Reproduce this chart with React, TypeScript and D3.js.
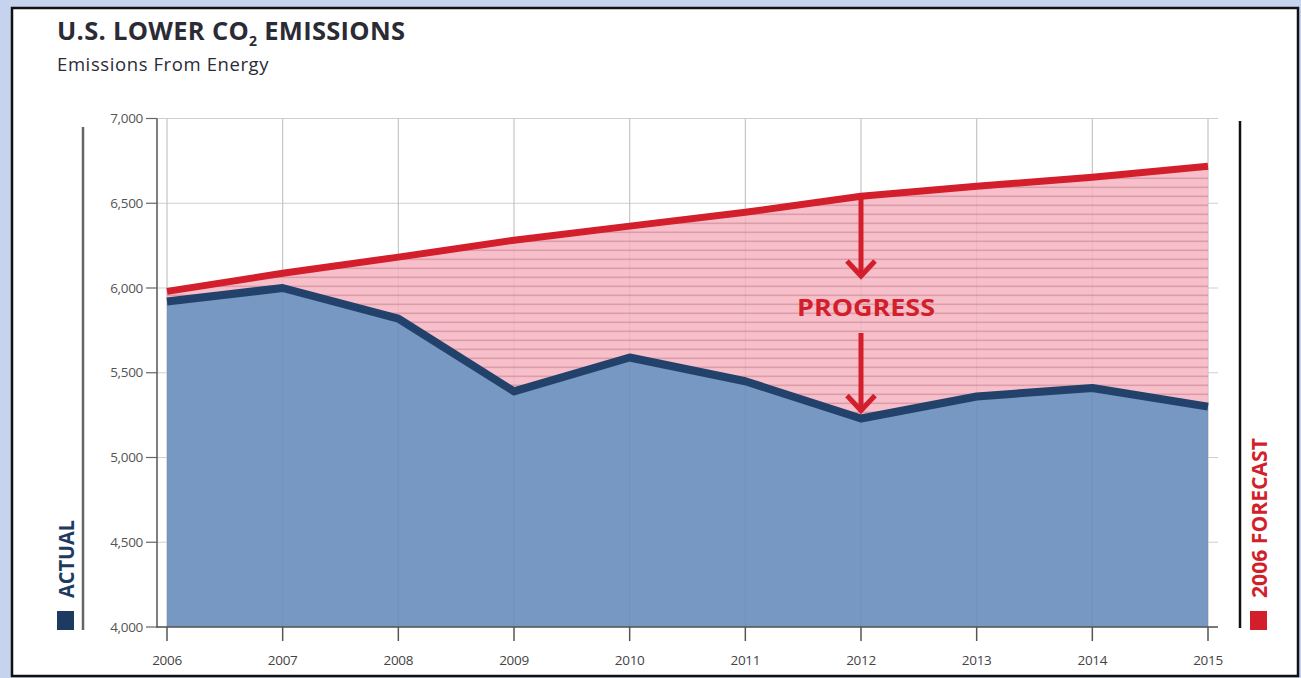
import React from 'react';
import * as d3 from 'd3';

// CO2 emissions from energy, million metric tons
const years = [2006, 2007, 2008, 2009, 2010, 2011, 2012, 2013, 2014, 2015];
const actual = [5920, 6000, 5820, 5390, 5590, 5450, 5230, 5360, 5410, 5300];
const forecast2006 = [5980, 6087, 6182, 6282, 6365, 6447, 6541, 6600, 6653, 6718];
const yTicks = [4000, 4500, 5000, 5500, 6000, 6500, 7000];

const W = 1301;
const H = 678;
const NAVY = '#22426b';
const BLUE_FILL = '#7698c3';
const RED = '#d21f2b';
const FONT = "'Open Sans', 'Noto Sans', sans-serif";

export default function App() {
  const x = d3.scaleLinear().domain([2006, 2015]).range([167, 1208]);
  const y = d3.scaleLinear().domain([4000, 7000]).range([627, 118.5]);

  const rows = years.map((yr, i) => ({ yr, a: actual[i], f: forecast2006[i] }));

  const actualArea = d3.area<any>()
    .x(d => x(d.yr))
    .y0(y(4000))
    .y1(d => y(d.a))(rows);
  const gapArea = d3.area<any>()
    .x(d => x(d.yr))
    .y0(d => y(d.a))
    .y1(d => y(d.f))(rows);
  const actualLine = d3.line<any>().x(d => x(d.yr)).y(d => y(d.a))(rows);
  const forecastLine = d3.line<any>().x(d => x(d.yr)).y(d => y(d.f))(rows);

  const xL = 157;
  const xR = 1218;

  // progress arrows at 2012
  const ax = x(2012);
  const i12 = years.indexOf(2012);
  const topY = y(forecast2006[i12]);
  const botY = y(actual[i12]);

  const chevron = (tipY: number) =>
    `M${ax - 14},${tipY - 15} L${ax},${tipY} L${ax + 14},${tipY - 15}`;

  return (
    <svg width={W} height={H} style={{ position: 'absolute', left: 0, top: 0 }}
      fontFamily={FONT}>
      <defs>
        <pattern id="stripes" width="10" height="9" patternUnits="userSpaceOnUse">
          <rect width="10" height="9" fill="#f7bfca" />
          <rect y="6.5" width="10" height="1.6" fill="#dc9dab" />
        </pattern>
      </defs>
      <rect width={W} height={H} fill="#c6d3ef" />
      <rect x={12} y={8} width={1286} height={668} fill="#fff" stroke="#111" strokeWidth={2.5} />

      <text x={57} y={40} fontSize={25.5} fontWeight={700} fill="#2b2b36" letterSpacing={0.3}>
        U.S. LOWER CO<tspan fontSize={14} dy={6}>2</tspan>
        <tspan dy={-6}> EMISSIONS</tspan>
      </text>
      <text x={57} y={71} fontSize={18.5} fontWeight={500} fill="#2b2b36" letterSpacing={0.6}>
        Emissions From Energy
      </text>

      {/* grid */}
      {yTicks.map(t => (
        <line key={'g' + t} x1={xL} x2={xR} y1={y(t)} y2={y(t)} stroke="#cfcfcf" strokeWidth={1.2} />
      ))}
      {years.map(yr => (
        <line key={'v' + yr} x1={x(yr)} x2={x(yr)} y1={y(7000)} y2={y(4000)} stroke="#cfcfcf" strokeWidth={1.2} />
      ))}

      <path d={gapArea || ''} fill="url(#stripes)" />
      <path d={actualArea || ''} fill={BLUE_FILL} />
      {years.map(yr => (
        <line key={'o' + yr} x1={x(yr)} x2={x(yr)} y1={y(7000)} y2={y(4000)} stroke="#000" strokeOpacity={0.05} />
      ))}
      <path d={actualLine || ''} fill="none" stroke={NAVY} strokeWidth={8} strokeLinejoin="round" />
      <path d={forecastLine || ''} fill="none" stroke={RED} strokeWidth={7} strokeLinejoin="round" />

      {/* axes */}
      <line x1={xL} x2={xL} y1={y(7000)} y2={y(4000) + 1} stroke="#555" strokeWidth={1.5} />
      <line x1={xL} x2={xR} y1={y(4000)} y2={y(4000)} stroke="#555" strokeWidth={1.5} />
      {yTicks.map(t => (
        <g key={'yt' + t}>
          <line x1={xL - 11} x2={xL} y1={y(t)} y2={y(t)} stroke="#666" strokeWidth={1.2} />
          <text x={xL - 14} y={y(t) + 4.5} fontSize={13.5} textAnchor="end" fill="#555"
            letterSpacing={-0.3}>{d3.format(',')(t)}</text>
        </g>
      ))}
      {years.map(yr => (
        <g key={'xt' + yr}>
          <line x1={x(yr)} x2={x(yr)} y1={y(4000)} y2={y(4000) + 14} stroke="#555" strokeWidth={1.5} />
          <text x={x(yr)} y={665} fontSize={13.5} textAnchor="middle" fill="#444"
            letterSpacing={-0.3}>{yr}</text>
        </g>
      ))}

      {/* progress annotation */}
      <g stroke={RED} strokeWidth={5} fill="none" strokeLinecap="butt">
        <line x1={ax} x2={ax} y1={topY} y2={276} />
        <path d={chevron(276)} strokeLinejoin="miter" />
        <line x1={ax} x2={ax} y1={333} y2={botY - 8} />
        <path d={chevron(botY - 8)} strokeLinejoin="miter" />
      </g>
      <text x={866} y={316} fontSize={23} fontWeight={700} fill={RED} textAnchor="middle"
        textLength={138} lengthAdjust="spacingAndGlyphs">PROGRESS</text>

      {/* side legends */}
      <line x1={83} x2={83} y1={127} y2={630} stroke="#666" strokeWidth={2.5} />
      <rect x={57} y={611} width={17} height={19} fill="#1d3a60" />
      <text transform="translate(74,598) rotate(-90)" fontSize={22} fontWeight={700} fill="#1d3a60"
        textLength={78} lengthAdjust="spacingAndGlyphs">ACTUAL</text>

      <line x1={1240} x2={1240} y1={121} y2={628} stroke="#111" strokeWidth={2.5} />
      <rect x={1250} y={611} width={17} height={19} fill={RED} />
      <text transform="translate(1267,598) rotate(-90)" fontSize={22} fontWeight={700} fill={RED}
        textLength={160} lengthAdjust="spacingAndGlyphs">2006 FORECAST</text>
    </svg>
  );
}
